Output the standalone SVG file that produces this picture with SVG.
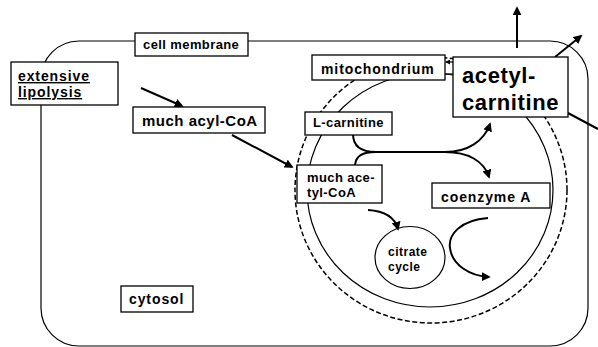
<svg xmlns="http://www.w3.org/2000/svg" width="598" height="347" viewBox="0 0 598 347">
<style>
.box{fill:#fff;stroke:#000;stroke-width:1.3}
.t{font-family:"Liberation Sans",Arial,sans-serif;font-weight:bold;fill:#000}
.ln{fill:none;stroke:#000;stroke-width:2}
.thin{fill:none;stroke:#000;stroke-width:1.2}
</style>
<defs>
<marker id="ah" viewBox="0 0 10 10" refX="8" refY="5" markerUnits="userSpaceOnUse" markerWidth="9" markerHeight="9" orient="auto">
<path d="M0,0 L10,5 L0,10 z" fill="#000"/>
</marker>
<marker id="ahs" viewBox="0 0 10 10" refX="8" refY="5" markerUnits="userSpaceOnUse" markerWidth="5" markerHeight="5" orient="auto">
<path d="M0,0 L10,5 L0,10 z" fill="#000"/>
</marker>
</defs>
<rect fill="#fff" width="598" height="347"/>
<g id="cell">
<rect x="41" y="41" width="547" height="305" rx="38" ry="38" class="thin"/>
</g>
<g id="mito-membranes">
<ellipse cx="431" cy="190" rx="136" ry="133" fill="none" stroke="#000" stroke-width="1.5" stroke-dasharray="5 2.5"/>
<ellipse cx="430" cy="190" rx="123" ry="117" class="thin"/>
</g>
<g id="citrate">
<ellipse cx="410" cy="257.5" rx="35" ry="31" class="thin"/>
<text class="t" x="388" y="256" font-size="12" letter-spacing="0.5">citrate</text>
<text class="t" x="388" y="271" font-size="12" letter-spacing="0.5">cycle</text>
</g>
<g id="connectors">
<path class="ln" d="M353,134 C353,147 362,152 376,152 L445,152 C468,152 484,141 490,124" marker-end="url(#ah)"/>
<path class="ln" d="M355,165 C356,156 362,152 376,152 L445,152 C468,152 484,161 489,177" marker-end="url(#ah)"/>
<path class="ln" d="M368,210 C385,211 395,218 398,229" marker-end="url(#ah)"/>
<path class="ln" d="M488,218 C460,220 448,235 450,248 C452,265 470,276 489,277" marker-end="url(#ah)"/>
<path class="ln" d="M141,88 L182,106" marker-end="url(#ah)"/>
<path class="ln" d="M232,135 L292,167" marker-end="url(#ah)"/>
<path class="ln" d="M517,48 L517,8" marker-end="url(#ah)"/>
<path class="ln" d="M555,57 L581,36" marker-end="url(#ah)"/>
<path class="ln" d="M568,113 L598,129"/>
<path class="thin" d="M453,62 L446,62" marker-end="url(#ahs)"/>
<path class="thin" d="M445,74 L453,74"/>
</g>
<g id="cell-membrane">
<rect class="box" x="135" y="33" width="113" height="23"/>
<text class="t" x="143" y="49" font-size="13" letter-spacing="0.4">cell membrane</text>
</g>
<g id="extensive-lipolysis">
<rect class="box" x="11" y="62" width="107" height="43"/>
<text class="t" x="18" y="81" font-size="14" letter-spacing="0.9" text-decoration="underline">extensive</text>
<text class="t" x="18" y="97" font-size="14" letter-spacing="0.9" text-decoration="underline">lipolysis</text>
</g>
<g id="much-acyl-coa">
<rect class="box" x="133" y="107" width="132" height="26"/>
<text class="t" x="142" y="126" font-size="15" letter-spacing="0.5">much acyl-CoA</text>
</g>
<g id="mitochondrium">
<rect class="box" x="312" y="55" width="133" height="25"/>
<text class="t" x="321" y="74" font-size="14" letter-spacing="0.9">mitochondrium</text>
</g>
<g id="acetyl-carnitine">
<rect class="box" x="453" y="57" width="115" height="60"/>
<text class="t" x="462" y="83" font-size="22" letter-spacing="0.6">acetyl-</text>
<text class="t" x="462" y="110" font-size="22" letter-spacing="0.6">carnitine</text>
</g>
<g id="l-carnitine">
<rect class="box" x="305" y="112" width="87" height="23"/>
<text class="t" x="313" y="127" font-size="13" letter-spacing="0.4">L-carnitine</text>
</g>
<g id="much-acetyl-coa">
<rect class="box" x="297" y="165" width="85" height="38"/>
<text class="t" x="307" y="182" font-size="13" letter-spacing="0.4">much ace-</text>
<text class="t" x="307" y="197" font-size="13" letter-spacing="0.4">tyl-CoA</text>
</g>
<g id="coenzyme-a">
<rect class="box" x="432" y="183" width="118" height="25"/>
<text class="t" x="441" y="202" font-size="14" letter-spacing="0.9">coenzyme A</text>
</g>
<g id="cytosol">
<rect class="box" x="121" y="286" width="72" height="26"/>
<text class="t" x="129" y="304" font-size="14" letter-spacing="0.9">cytosol</text>
</g>
</svg>
